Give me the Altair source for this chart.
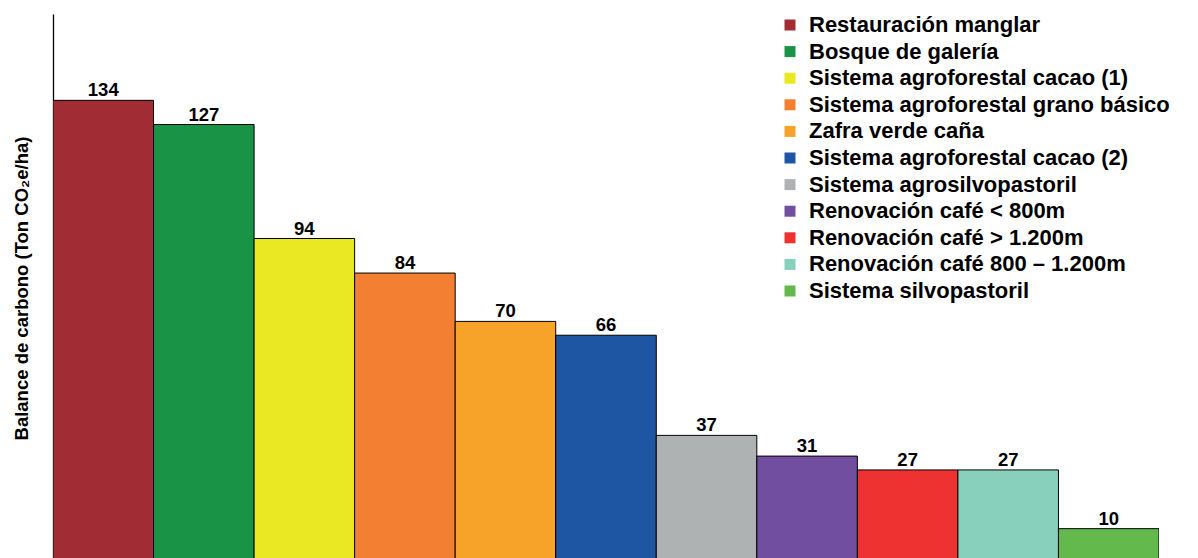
import altair as alt
import pandas as pd

categorias = [
    "Restauración manglar",
    "Bosque de galería",
    "Sistema agroforestal cacao (1)",
    "Sistema agroforestal grano básico",
    "Zafra verde caña",
    "Sistema agroforestal cacao (2)",
    "Sistema agrosilvopastoril",
    "Renovación café < 800m",
    "Renovación café > 1.200m",
    "Renovación café 800 – 1.200m",
    "Sistema silvopastoril",
]
valores = [134, 127, 94, 84, 70, 66, 37, 31, 27, 27, 10]
colores = [
    "#A22C33", "#199447", "#EAE823", "#F37F32", "#F7A229", "#1E56A4",
    "#AFB2B3", "#714E9F", "#EE3131", "#88CFBC", "#63B94B",
]

df = pd.DataFrame({"categoria": categorias, "valor": valores})

FONT = "Liberation Sans"

x_enc = alt.X("categoria:N", sort=categorias, axis=None,
              scale=alt.Scale(paddingInner=0, paddingOuter=0))
y_scale = alt.Scale(domain=[1.5, 159], zero=False, nice=False)

base = alt.Chart(df)

bars = base.mark_bar(stroke="black", strokeWidth=1, clip=True).encode(
    x=x_enc,
    y=alt.Y("valor:Q", scale=y_scale,
            axis=alt.Axis(
                title="Balance de carbono (Ton CO₂e/ha)",
                ticks=False, labels=False, grid=False,
                domainColor="black", domainWidth=1.3,
                titleFont=FONT, titleFontSize=18.5, titleFontWeight="bold",
                titleColor="black", titleX=-31.5, titleY=274, titleAngle=270,
                titleAlign="center", titleBaseline="middle",
            )),
    y2=alt.datum(0),
    color=alt.Color("categoria:N", sort=categorias,
                    scale=alt.Scale(domain=categorias, range=colores),
                    legend=alt.Legend(
                        title=None, orient="none", legendX=726, legendY=0,
                        symbolType="square", symbolSize=121,
                        symbolStrokeWidth=0, symbolOpacity=1,
                        labelFont=FONT, labelFontSize=22,
                        labelFontWeight="bold", labelColor="black",
                        labelOffset=8, rowPadding=4.6, padding=0,
                        labelLimit=600,
                    )),
)

text = base.mark_text(baseline="alphabetic", dy=-4, fontSize=18.5,
                      fontWeight="bold", font=FONT, color="black").encode(
    x=x_enc,
    y=alt.Y("valor:Q", scale=y_scale),
    text="valor:Q",
)

chart = (bars + text).properties(
    width=1106, height=544,
    autosize=alt.AutoSizeParams(type="none"),
    padding={"left": 53, "top": 14, "right": 39, "bottom": 0},
    background="white",
).configure_view(strokeOpacity=0)

chart.save("out.html", embed_options={"renderer": "svg", "actions": False})
